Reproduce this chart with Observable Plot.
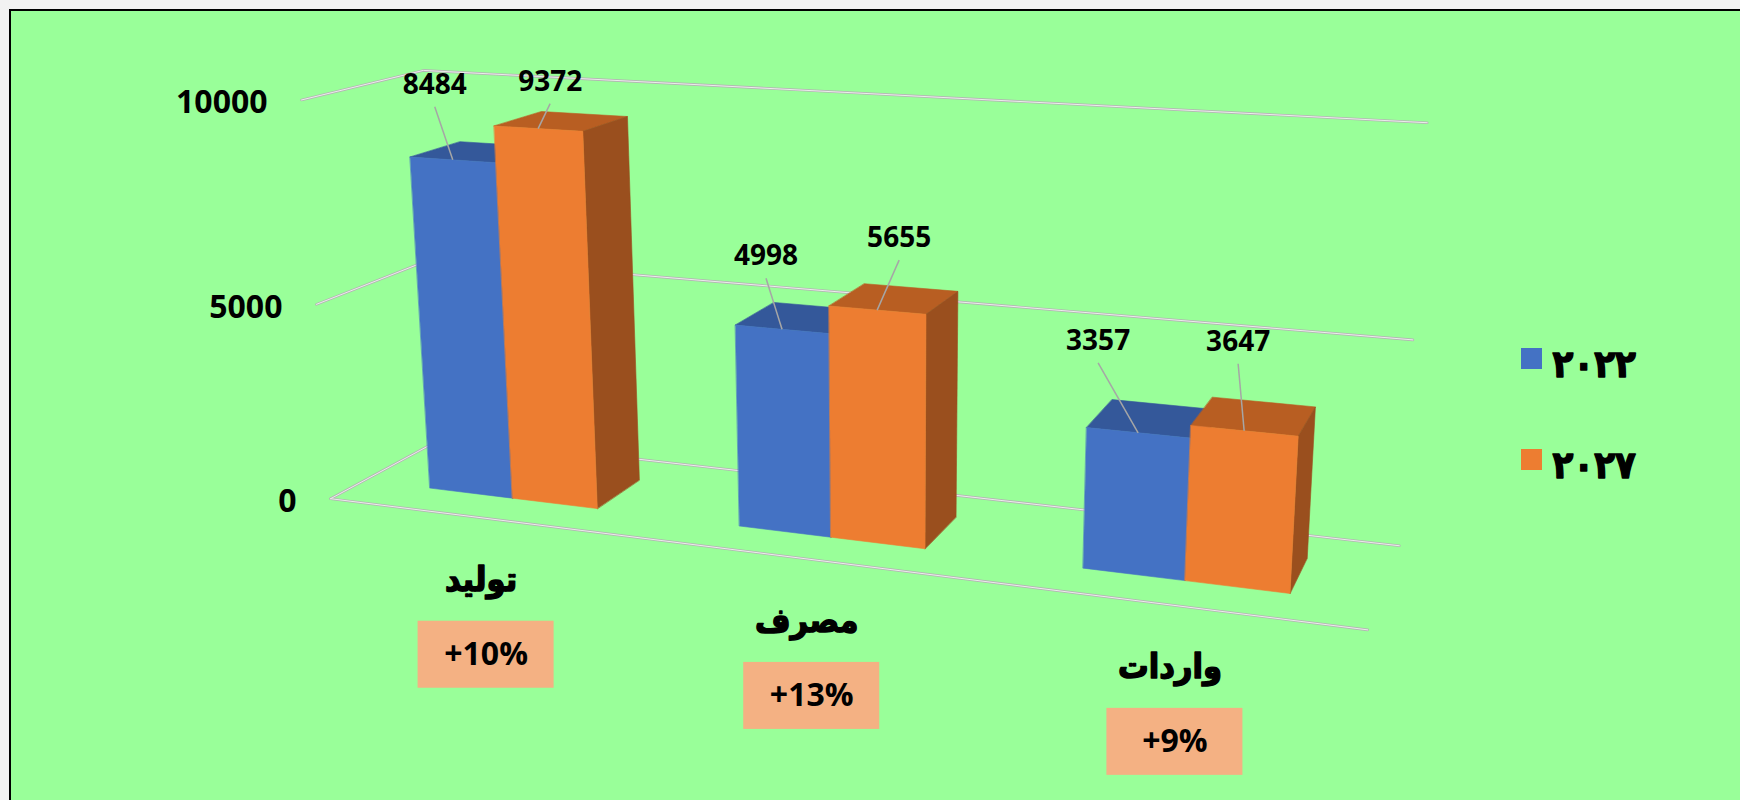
<!DOCTYPE html>
<html><head><meta charset="utf-8">
<script src="https://cdn.jsdelivr.net/npm/d3@7"></script>
<script src="https://cdn.jsdelivr.net/npm/@observablehq/plot@0.6"></script>
<style>
html,body{margin:0;padding:0;background:#f2f2f2;overflow:hidden;width:1740px;height:800px;}
#panel{position:absolute;left:9px;top:9px;width:1760px;height:820px;background:#99ff99;border-left:2px solid #000;border-top:2px solid #000;}
#chart{position:absolute;left:0;top:0;}
</style></head><body>
<div id="panel"></div><div id="chart"></div>
<script>
// ---------- data ----------
const categories = ["تولید", "مصرف", "واردات"];
const seriesNames = ["۲۰۲۲", "۲۰۲۷"];
const values2022 = [8484, 4998, 3357];
const values2027 = [9372, 5655, 3647];
const changeLabels = ["+10%", "+13%", "+9%"];
const yTicks = [0, 5000, 10000];
const yMax = 10000;

// ---------- layout / style (not data) ----------
const seriesValues = [values2022, values2027];
const palette = [
  {front: "#4472c4", top: "#34589a", side: "#2f5290"},
  {front: "#ed7d31", top: "#b85e22", side: "#9a4f1e"}
];
// 3D camera (perspective) that maps world box -> screen
const view = {W: 1410, D: 301, H: 551, yaw: 19.5, pitch: 15.5, f: 2179,
  tx: -775, ty: -182, tz: 3000, px: 893, py: 366, barFrac: 0.2766};
// manual placement of data labels relative to their bar tops (like dragged Excel labels)
const labelNudge = [[[-18, -75], [12, -47]], [[-16, -73], [22, -72]], [[-40, -92], [-6, -89]]];
const numFont = "'Open Sans', 'Liberation Sans', sans-serif";
const arFont = "'DejaVu Sans Condensed', 'DejaVu Sans', sans-serif";

const rad = Math.PI / 180;
function project([X, Y, Z]) {
  const t = view.yaw * rad, p = view.pitch * rad;
  const x1 = X * Math.cos(t) + Z * Math.sin(t);
  const z1 = -X * Math.sin(t) + Z * Math.cos(t);
  const y2 = Y * Math.cos(p) + z1 * Math.sin(p);
  const z2 = -Y * Math.sin(p) + z1 * Math.cos(p);
  const xc = x1 + view.tx, yc = y2 + view.ty, zc = z2 + view.tz;
  return [view.px + view.f * xc / zc, view.py - view.f * yc / zc];
}
const h = d3.scaleLinear([0, yMax], [0, view.H]);
const slot = view.W / categories.length;
const bw = slot * view.barFrac;
const bd = bw;
const z0 = (view.D - bd) / 2, z1b = z0 + bd;

// gridlines (side wall + back wall) and floor front edge
const gridRows = [];
yTicks.forEach((v, k) => {
  const Y = h(v);
  [[0, Y, 0], [0, Y, view.D], [view.W, Y, view.D]].forEach(P => {
    const [x, y] = project(P); gridRows.push({id: "g" + k, x, y});
  });
});
[[0, 0, 0], [view.W, 0, 0]].forEach(P => { const [x, y] = project(P); gridRows.push({id: "floor", x, y}); });

// bar faces, painted back-to-front
const faceRows = [];
const labels = [];
categories.forEach((c, i) => {
  seriesValues.forEach((vals, j) => {
    const v = vals[i];
    const X0 = i * slot + (slot - 2 * bw) / 2 + j * bw, X1 = X0 + bw, Y1 = h(v);
    const faces = {
      top: [[X0, Y1, z0], [X1, Y1, z0], [X1, Y1, z1b], [X0, Y1, z1b]],
      side: [[X1, 0, z0], [X1, Y1, z0], [X1, Y1, z1b], [X1, 0, z1b]],
      front: [[X0, 0, z0], [X1, 0, z0], [X1, Y1, z0], [X0, Y1, z0]]
    };
    for (const [name, pts] of Object.entries(faces)) {
      pts.forEach(P => { const [x, y] = project(P); faceRows.push({id: `b${i}${j}${name}`, x, y, color: palette[j][name]}); });
    }
    const [ax, ay] = project([(X0 + X1) / 2, Y1, z0]);
    const [dx, dy] = labelNudge[i][j];
    labels.push({text: String(v), ax, ay, lx: ax + dx, ly: ay + dy});
  });
});

// category labels and change boxes below the floor front edge
const catRows = categories.map((c, i) => {
  const [x, y] = project([(i + 0.5) * slot, 0, 0]);
  return {c, x, y: y + 62, bx: x + 5, by: y + 137, change: changeLabels[i]};
});
const boxW = 136, boxH = 67;

// y-axis tick labels at the front-left edge
const tickRows = yTicks.map(v => { const [x, y] = project([0, h(v), 0]); return {v, x: x - 34, y: y + 3}; });

// legend
const legend = seriesNames.map((s, j) => ({s, color: palette[j].front, x: 1521, y: 348 + j * 101}));
const sq = 21;

const chart = Plot.plot({
  width: 1740, height: 800, margin: 0,
  x: {domain: [0, 1740], range: [0, 1740], axis: null},
  y: {domain: [0, 800], range: [0, 800], axis: null},
  color: {type: "identity"},
  style: {background: "transparent", overflow: "visible"},
  marks: [
    Plot.line(gridRows, {x: "x", y: "y", z: "id", stroke: "#b4b4b4", strokeWidth: 2.6, curve: "linear"}),
    Plot.line(gridRows, {x: "x", y: "y", z: "id", stroke: "#ececec", strokeWidth: 1, curve: "linear"}),
    Plot.line(faceRows, {x: "x", y: "y", z: "id", fill: "color", stroke: "color", strokeWidth: 0.6, curve: "linear-closed"}),
    Plot.link(labels, {x1: "lx", y1: d => d.ly + 22, x2: "ax", y2: "ay", stroke: "#a6a6a6", strokeWidth: 1.5}),
    Plot.text(labels, {x: "lx", y: "ly", text: "text", fontFamily: numFont, fontWeight: 700, fontSize: 28, fill: "#000"}),
    Plot.text(tickRows, {x: "x", y: "y", text: d => String(d.v), textAnchor: "end", fontFamily: numFont, fontWeight: 700, fontSize: 32, fill: "#000"}),
    Plot.text(catRows, {x: "x", y: "y", text: "c", fontFamily: arFont, fontWeight: 700, fontSize: 34, fill: "#000", stroke: "#000", strokeWidth: 1.4}),
    Plot.rect(catRows, {x1: d => d.bx - boxW / 2, x2: d => d.bx + boxW / 2, y1: d => d.by - boxH / 2, y2: d => d.by + boxH / 2, fill: "#f4b183"}),
    Plot.text(catRows, {x: "bx", y: "by", text: "change", fontFamily: numFont, fontWeight: 700, fontSize: 32, fill: "#000"}),
    Plot.rect(legend, {x1: "x", x2: d => d.x + sq, y1: "y", y2: d => d.y + sq, fill: "color"}),
    Plot.text(legend, {x: d => d.x + sq + 10, y: d => d.y + sq / 2 + 6, text: "s", textAnchor: "start", fontFamily: arFont, fontWeight: 700, fontSize: 38, fill: "#000", stroke: "#000", strokeWidth: 1.4})
  ]
});
document.getElementById("chart").appendChild(chart);
</script>
</body></html>
